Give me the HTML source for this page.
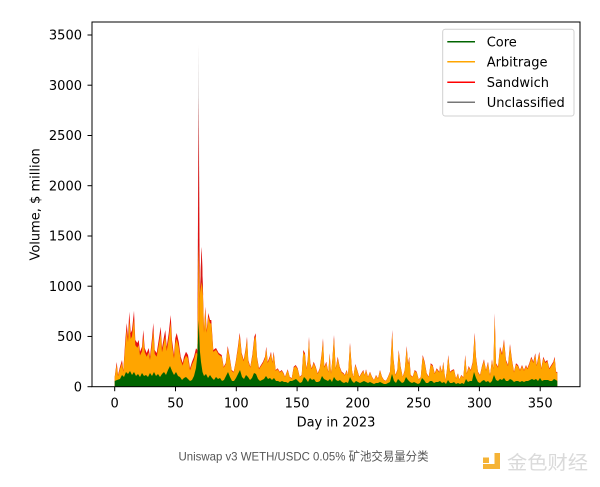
<!DOCTYPE html>
<html>
<head>
<meta charset="utf-8">
<style>
html,body{margin:0;padding:0;background:#fff;}
svg{display:block;}
</style>
</head>
<body>
<svg width="600" height="487" viewBox="0 0 600 487" xmlns="http://www.w3.org/2000/svg" font-family="'DejaVu Sans', 'Liberation Sans', sans-serif">
<rect x="0" y="0" width="600" height="487" fill="#fff"/>
<defs>
<clipPath id="pa"><rect x="92" y="22" width="488" height="364.7"/></clipPath>
<path id="L" d="M114.7,386.7 L114.7,376.7 116.7,362 118,375 120,366.7 122,360 123.3,370 125.3,340 126.7,323 128,336.7 129.3,311.7 130.7,333 132,330 134,310.7 135.3,340 137.3,343 138.7,340 140,351.7 142,346.7 143.3,330 144.7,348 146.7,353 148.7,348 150,356.7 152,338 153.3,323 154.7,350 156.7,353 158.7,340 160.7,326.7 162,348 164,336.7 165.3,330 166.7,346.7 168.7,333.3 170.7,315 172,340 174,355 175.3,338.3 176.7,333 178.7,341.7 180.7,356.7 182.7,363 184,356.7 186,351.7 188,355 190,368.3 192,361.7 194,356.7 196,348.3 197.4,350 197.4,386.7 Z"/>
<path id="R" d="M199.8,386.7 L199.8,296 201,262 201.7,247 202.7,283 204,330 205.3,306.7 206.7,330 208.3,313 210,320 211.3,320 213.3,350 216,348 218.7,353 221.7,355 223.7,366.7 225.7,363 227.7,346 229.7,356.7 231.7,370 233.7,371.7 235.7,361.7 237.7,348.3 239.7,332.7 241.7,353 243.7,360 245.7,348.3 247,336.7 248.3,360 250.3,366.7 252.3,355 254.3,336.7 255.7,333.3 257,356.7 259,368.3 261,365 263,361.7 265,356.7 266.3,346.7 267.7,361.7 269.7,356.7 271,351.7 272.3,361.7 273.7,351.7 275.7,370 277.7,368.3 279.7,371.7 281.7,370 283.7,373.3 285,376.7 287.7,369.3 289.7,376.7 291.7,378.3 293.7,366.7 295.7,365 297.7,368.3 299.7,376.7 301.7,375 303.3,350 305,353.3 306.3,368.3 307.7,360 309,336.7 310.3,363.3 311.7,368.3 313.7,361.7 315.7,366.7 317.7,373.3 319.7,368.3 321.7,353.3 323,338.3 324.3,366.7 326.3,361.7 328.3,371.7 329.7,353.3 331,373.3 332.3,360 334,335 335.7,368.3 337.7,356.7 339.7,366.7 341.7,371.7 343.7,373.3 344.7,375 346.7,370 348,375 350,342.7 352,370 353.3,376.7 355.3,364 357.3,370 359.3,376.7 361.3,373.3 363.3,370 364.7,375 366,369.3 368,376.7 370,371.7 372,376.7 374,380 376,375 378,378.3 380,370 382,376.7 384,380 386,380.7 388,376.7 390,371.7 391.3,348.3 392.3,330 393.3,356.7 395.3,375 397.3,370 398.7,350 400.7,366.7 402.7,376.7 404.7,370 406.7,346 408,363.3 409.3,356.7 410.7,375 412.7,376.7 414.7,370 416.7,371.7 418.7,379.3 420.7,377.3 422.7,355 424.7,361.7 426.7,373.3 428.7,376.7 430.7,363.3 432.7,365 434.7,373.3 436.7,368.3 439.3,371.7 440,365 442,371.7 443.3,361.7 445.3,380 446.7,371.7 448.3,355 450,371.7 452,370 454,369.3 456,378.3 458,373.3 459.3,379.3 461.3,375 463.3,377.3 465.3,355 466.7,373.3 468.7,366 470.7,370 472.7,361.7 474.7,332.7 476,356.7 478,371.7 480,375 482,366 484,359.3 486,370 488,361.7 490,375 492,359.3 493.3,368.3 494.7,313.3 496,363.3 498,366.7 500,346.7 502,353.3 504,339.3 506,360 508,365 510,344 512,360 514,371.7 516,363.3 518,365 520,370 522,365 524,370 526,365 527.3,368.3 529.3,363.3 531.3,356.7 533.3,361.7 535.3,353.3 536.7,365 539.3,351.7 541.3,368.3 543.3,356.7 545.3,361.7 547.3,360 549.3,368.3 551.3,365 553.3,361.7 554.7,356.7 556,371.7 557.3,372 557.3,386.7 Z"/>
</defs>

<g clip-path="url(#pa)">
  <!-- spike layers -->
  <polygon points="197.4,386.7 197.4,350 198.6,43 199.8,296 199.8,386.7" fill="#c4baba"/>
  <polygon points="197.4,386.7 197.4,350 198.6,97 199.8,296 199.8,386.7" fill="#e01010"/>
  <polygon points="197.4,386.7 197.4,352 198.6,245 199.8,300 199.8,386.7" fill="#ffa500"/>
  <!-- total (red) then arbitrage (orange) -->
  <use href="#L" fill="#e8130f"/>
  <use href="#R" fill="#e8130f"/>
  <use href="#L" fill="#ffa500" transform="translate(0,386.7) scale(1,0.89) translate(0,-386.7)"/>
  <use href="#R" fill="#ffa500" transform="translate(0,386.7) scale(1,0.95) translate(0,-386.7)"/>
  <!-- extra red tips -->
  <polygon points="200.3,292 201,262 201.7,247 202.7,283 203.2,296 201.7,282" fill="#d81818"/>
  <!-- core (green) -->
  <path fill="#006400" d="M114.7,386.7 L114.7,381 117,380 120,379 122,375 124,377 126,372 128,374 130,371 132,375 134,372 136,376 138,374 140,377 142,373 144,376 146,375 148,377 150,373 152,376 154,372 156,376 158,374 160,377 162,374 164,372 166,375 168,370 170,366 172,371 174,375 176,372 178,376 180,377 182,380 184,378 186,377 188,379 190,381 192,380 194,376 196,368 197.4,355 198.6,320 199.8,350 201,362 202.5,372 204,376 206,374 208,378 210,375 212,378 214,380 216,377 218,379 220,378 222,381 224,380 226,376 228,372 230,377 232,381 234,381 236,378 238,374 240,370 242,377 244,379 246,375 248,377 250,380 252,378 254,373 256,374 258,379 260,381 262,380 264,379 266,376 268,379 270,378 272,380 274,378 276,381 278,381 280,382 282,381 284,382 286,382 288,383 290,381 292,381 294,380 296,379 298,381 300,383 302,382 304,377 306,379 308,382 310,378 312,380 314,379 316,382 318,382 320,381 322,376 324,379 326,380 328,381 330,379 332,382 334,377 336,380 338,381 340,380 342,382 344,383 346,382 348,383 350,377 352,381 354,383 356,381 358,382 360,383 362,382 364,381 366,382 368,383 370,382 372,383 374,384 376,383 378,383 380,382 382,383 384,384 386,384 388,383 390,382 392,374 394,381 396,383 398,379 400,381 402,383 404,382 406,377 408,380 410,382 412,383 414,382 416,383 418,384 420,383 422,378 424,380 426,383 428,383 430,381 432,381 434,383 436,382 438,382 440,381 442,383 444,382 446,384 448,380 450,383 452,383 454,382 456,384 458,383 460,384 462,383 464,384 466,379 468,382 470,381 472,381 474,372 476,378 478,382 480,383 482,381 484,380 486,382 488,381 490,383 492,381 494,375 496,380 498,381 500,379 502,380 504,378 506,381 508,381 510,379 512,380 514,382 516,381 518,381 520,382 522,381 524,382 526,381 528,381 530,380 532,379 534,380 536,379 538,381 540,378 542,381 544,380 546,380 548,380 550,381 552,381 554,379 556,380 557.3,381 557.3,386.7 Z"/>
</g>

<!-- spines -->
<rect x="92" y="22" width="488" height="364.7" fill="none" stroke="#000" stroke-width="1"/>

<!-- y ticks -->
<g stroke="#000" stroke-width="1">
  <line x1="87.5" x2="92" y1="386.7" y2="386.7"/>
  <line x1="87.5" x2="92" y1="336.45" y2="336.45"/>
  <line x1="87.5" x2="92" y1="286.2" y2="286.2"/>
  <line x1="87.5" x2="92" y1="236" y2="236"/>
  <line x1="87.5" x2="92" y1="185.7" y2="185.7"/>
  <line x1="87.5" x2="92" y1="135.5" y2="135.5"/>
  <line x1="87.5" x2="92" y1="85.2" y2="85.2"/>
  <line x1="87.5" x2="92" y1="35" y2="35"/>
</g>
<g font-size="13" fill="#000" text-anchor="end">
  <text x="82" y="391.4">0</text>
  <text x="82" y="341.2">500</text>
  <text x="82" y="291">1000</text>
  <text x="82" y="240.7">1500</text>
  <text x="82" y="190.4">2000</text>
  <text x="82" y="140.2">2500</text>
  <text x="82" y="90">3000</text>
  <text x="82" y="39.7">3500</text>
</g>

<!-- x ticks -->
<g stroke="#000" stroke-width="1">
  <line x1="114.7" x2="114.7" y1="386.7" y2="391.2"/>
  <line x1="175.5" x2="175.5" y1="386.7" y2="391.2"/>
  <line x1="236.3" x2="236.3" y1="386.7" y2="391.2"/>
  <line x1="297.1" x2="297.1" y1="386.7" y2="391.2"/>
  <line x1="357.8" x2="357.8" y1="386.7" y2="391.2"/>
  <line x1="418.6" x2="418.6" y1="386.7" y2="391.2"/>
  <line x1="479.4" x2="479.4" y1="386.7" y2="391.2"/>
  <line x1="540.2" x2="540.2" y1="386.7" y2="391.2"/>
</g>
<g font-size="13" fill="#000" text-anchor="middle">
  <text x="114.7" y="407.5">0</text>
  <text x="175.5" y="407.5">50</text>
  <text x="236.3" y="407.5">100</text>
  <text x="297.1" y="407.5">150</text>
  <text x="357.8" y="407.5">200</text>
  <text x="418.6" y="407.5">250</text>
  <text x="479.4" y="407.5">300</text>
  <text x="540.2" y="407.5">350</text>
</g>

<!-- axis labels -->
<text x="336" y="426.5" font-size="13" text-anchor="middle" fill="#000">Day in 2023</text>
<text transform="translate(39.5,204.4) rotate(-90)" font-size="13" text-anchor="middle" fill="#000">Volume, $ million</text>

<!-- legend -->
<rect x="442.7" y="29.3" width="131.3" height="86.7" rx="2.5" ry="2.5" fill="#fff" fill-opacity="0.85" stroke="#d0d0d0" stroke-width="1"/>
<g stroke-width="1.5">
  <line x1="447.3" x2="475" y1="41.7" y2="41.7" stroke="#006400"/>
  <line x1="447.3" x2="475" y1="61.7" y2="61.7" stroke="#ffa500"/>
  <line x1="447.3" x2="475" y1="82.3" y2="82.3" stroke="#ff0000"/>
  <line x1="447.3" x2="475" y1="102.3" y2="102.3" stroke="#777"/>
</g>
<g font-size="13" fill="#000">
  <text x="486.7" y="46.3">Core</text>
  <text x="486.7" y="66.3">Arbitrage</text>
  <text x="486.7" y="86.9">Sandwich</text>
  <text x="486.7" y="106.9">Unclassified</text>
</g>

<!-- caption -->
<text x="178.5" y="460.5" font-size="12" fill="#555" textLength="250" lengthAdjust="spacingAndGlyphs" font-family="'Liberation Sans', 'Noto Sans CJK SC', sans-serif">Uniswap v3 WETH/USDC 0.05% 矿池交易量分类</text>

<!-- watermark logo -->
<g fill="#f5b335">
  <rect x="483" y="457.5" width="6" height="5.5"/>
  <rect x="494.5" y="453" width="5.5" height="16"/>
  <rect x="483" y="464" width="17" height="5"/>
</g>
<text x="507" y="469" font-size="19" fill="#dadada" font-family="'Noto Sans CJK SC', 'WenQuanYi Zen Hei', sans-serif" textLength="81" lengthAdjust="spacingAndGlyphs">金色财经</text>
</svg>
</body>
</html>
